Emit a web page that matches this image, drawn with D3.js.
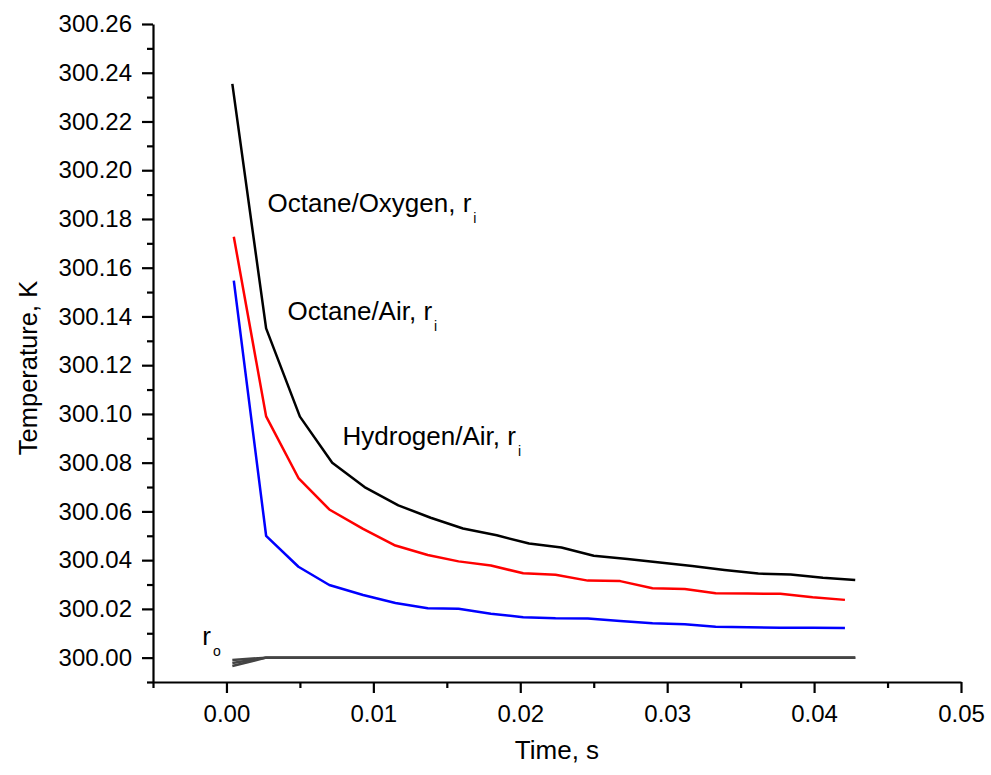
<!DOCTYPE html>
<html>
<head>
<meta charset="utf-8">
<script src="https://cdn.jsdelivr.net/npm/d3@7/dist/d3.min.js"></script>
<style>
  html, body { margin: 0; padding: 0; background: #fff; }
  svg { display: block; font-family: "Liberation Sans", Arial, sans-serif; }
</style>
</head>
<body>
<svg id="chart" width="991" height="775"></svg>
<script>
// Time points (s) for the Octane/Oxygen run and the r_o surface curves
const timeOxygen = [0.0004, 0.0027, 0.0050, 0.0072, 0.0094, 0.0117, 0.0139, 0.0161, 0.0184, 0.0206,
                    0.0228, 0.0250, 0.0273, 0.0295, 0.0317, 0.0339, 0.0362, 0.0384, 0.0406, 0.0428];
// Time points (s) for the Octane/Air and Hydrogen/Air runs
const timeAir = [0.0005, 0.0027, 0.0049, 0.0070, 0.0093, 0.0115, 0.0137, 0.0158, 0.0180, 0.0202,
                 0.0224, 0.0246, 0.0268, 0.0290, 0.0312, 0.0333, 0.0355, 0.0377, 0.0399, 0.0421];

// Temperature at the inner radius r_i (K)
const octaneOxygen = [300.2354, 300.1351, 300.0989, 300.0800, 300.0700, 300.0625, 300.0574, 300.0530, 300.0502, 300.0468,
                      300.0452, 300.0418, 300.0405, 300.0390, 300.0376, 300.0360, 300.0345, 300.0341, 300.0328, 300.0319];
const octaneAir = [300.1727, 300.0990, 300.0737, 300.0608, 300.0528, 300.0460, 300.0421, 300.0395, 300.0378, 300.0346,
                   300.0340, 300.0316, 300.0314, 300.0285, 300.0282, 300.0264, 300.0263, 300.0262, 300.0248, 300.0237];
const hydrogenAir = [300.1547, 300.0500, 300.0373, 300.0298, 300.0257, 300.0224, 300.0203, 300.0201, 300.0180, 300.0166,
                     300.0162, 300.0161, 300.0150, 300.0141, 300.0137, 300.0127, 300.0125, 300.0123, 300.0123, 300.0122];

// Temperature at the outer radius r_o (K), one curve per mixture
const outerA = [299.9990, 300.0000, 300.0000, 300.0000, 300.0000, 300.0000, 300.0000, 300.0000, 300.0000, 300.0000,
                300.0000, 300.0000, 300.0000, 300.0000, 300.0000, 300.0000, 300.0000, 300.0000, 300.0000, 300.0000];
const outerB = [299.9978, 300.0000, 300.0000, 300.0000, 300.0000, 300.0000, 300.0000, 300.0000, 300.0000, 300.0000,
                300.0000, 300.0000, 300.0000, 300.0000, 300.0000, 300.0000, 300.0000, 300.0000, 300.0000, 300.0000];
const outerC = [299.9966, 300.0000, 300.0000, 300.0000, 300.0000, 300.0000, 300.0000, 300.0000, 300.0000, 300.0000,
                300.0000, 300.0000, 300.0000, 300.0000, 300.0000, 300.0000, 300.0000, 300.0000, 300.0000, 300.0000];

// Axis ticks
const xMajorTicks = [0.00, 0.01, 0.02, 0.03, 0.04, 0.05];
const xMinorTicks = [-0.005, 0.005, 0.015, 0.025, 0.035, 0.045];
const yMajorTicks = [300.00, 300.02, 300.04, 300.06, 300.08, 300.10, 300.12, 300.14,
                     300.16, 300.18, 300.20, 300.22, 300.24, 300.26];
const yMinorTicks = [299.99, 300.01, 300.03, 300.05, 300.07, 300.09, 300.11, 300.13,
                     300.15, 300.17, 300.19, 300.21, 300.23, 300.25];

// Curve annotations: text, subscript, anchor (time, temperature)
const labelText = ["Octane/Oxygen, r", "Octane/Air, r", "Hydrogen/Air, r", "r"];
const labelSub = ["i", "i", "i", "o"];
const labelTime = [0.0028, 0.00416, 0.0079, -0.00164];
const labelTemp = [300.183, 300.1385, 300.0873, 300.0052];

const svg = d3.select("#chart");

const x = d3.scaleLinear().domain([-0.005, 0.05]).range([153, 961]);
const y = d3.scaleLinear().domain([299.99, 300.26]).range([682, 24]);

const fmt = d3.format(".2f");

// Bottom axis: major ticks with labels, then minor ticks
const gx = svg.append("g").attr("transform", "translate(0,682)");
gx.call(d3.axisBottom(x).tickValues(xMajorTicks).tickFormat(fmt)
  .tickSize(11).tickSizeOuter(0).tickPadding(12));
gx.append("g").call(d3.axisBottom(x).tickValues(xMinorTicks).tickFormat("")
  .tickSize(6).tickSizeOuter(0)).select(".domain").remove();

// Left axis
const gy = svg.append("g").attr("transform", "translate(153,0)");
gy.call(d3.axisLeft(y).tickValues(yMajorTicks).tickFormat(fmt)
  .tickSize(11).tickSizeOuter(0).tickPadding(10));
gy.append("g").call(d3.axisLeft(y).tickValues(yMinorTicks).tickFormat("")
  .tickSize(6).tickSizeOuter(0)).select(".domain").remove();

svg.selectAll(".domain").attr("stroke", "#000").attr("stroke-width", 2.2);
svg.selectAll(".tick line").attr("stroke", "#000").attr("stroke-width", 2.2);
svg.selectAll(".tick text").attr("fill", "#000").style("font-size", "24px")
  .style("font-family", "'Liberation Sans', Arial, sans-serif");

// Axis titles
svg.append("text")
  .attr("x", 557).attr("y", 759)
  .attr("text-anchor", "middle")
  .style("font-size", "26px")
  .text("Time, s");

svg.append("text")
  .attr("transform", "translate(37,368) rotate(-90)")
  .attr("text-anchor", "middle")
  .style("font-size", "25.5px")
  .text("Temperature, K");

// Curves
const line = d3.line().x(d => x(d[0])).y(d => y(d[1]));
const pair = (ts, vs) => ts.map((t, i) => [t, vs[i]]);

const curves = [
  { pts: pair(timeOxygen, outerA), color: "#444" },
  { pts: pair(timeOxygen, outerB), color: "#444" },
  { pts: pair(timeOxygen, outerC), color: "#444" },
  { pts: pair(timeAir, hydrogenAir), color: "#0000ff" },
  { pts: pair(timeAir, octaneAir), color: "#ff0000" },
  { pts: pair(timeOxygen, octaneOxygen), color: "#000000" }
];

svg.append("g").selectAll("path")
  .data(curves)
  .join("path")
  .attr("d", d => line(d.pts))
  .attr("fill", "none")
  .attr("stroke", d => d.color)
  .attr("stroke-width", 2.5)
  .attr("stroke-linejoin", "round");

// Annotations with subscripts
const ann = svg.append("g");
labelText.forEach((txt, i) => {
  const t = ann.append("text")
    .attr("x", x(labelTime[i]))
    .attr("y", y(labelTemp[i]))
    .attr("fill", "#000")
    .style("font-size", "26px");
  t.append("tspan").text(txt);
  t.append("tspan")
    .attr("dx", 2)
    .attr("dy", 11)
    .style("font-size", "14px")
    .text(labelSub[i]);
});
</script>
</body>
</html>
